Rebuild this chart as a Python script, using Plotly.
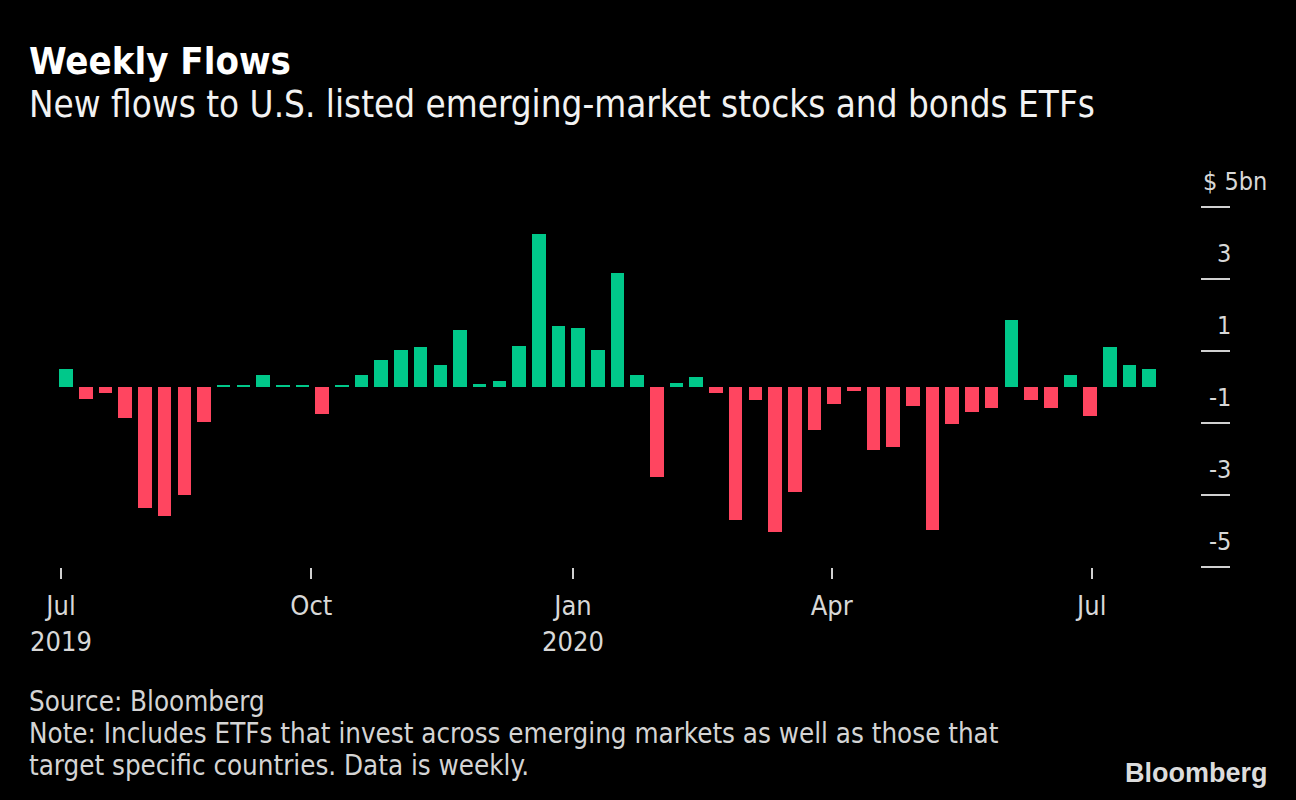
import pandas as pd
import plotly.graph_objects as go

# ---- data ----
week_dates = pd.date_range("2019-07-05", periods=56, freq="7D")
flows_bn = [0.49, -0.32, -0.16, -0.87, -3.37, -3.59, -3.0, -0.98, 0.05, 0.05,
            0.34, 0.04, 0.04, -0.76, 0.05, 0.33, 0.76, 1.04, 1.1, 0.61,
            1.59, 0.07, 0.17, 1.15, 4.25, 1.69, 1.63, 1.04, 3.17, 0.33,
            -2.5, 0.12, 0.28, -0.16, -3.7, -0.37, -4.02, -2.93, -1.19, -0.48,
            -0.11, -1.74, -1.68, -0.53, -3.97, -1.02, -0.70, -0.59, 1.86, -0.37,
            -0.59, 0.33, -0.81, 1.1, 0.61, 0.5]
x_tick_text = ["Jul<br>2019", "Oct", "Jan<br>2020", "Apr", "Jul"]
y_tick_vals = [5, 3, 1, -1, -3, -5]
y_tick_text = ["$ 5bn", "3", "1", "-1", "-3", "-5"]
title_text = "Weekly Flows"
subtitle_text = "New flows to U.S. listed emerging-market stocks and bonds ETFs"
source_text = "Source: Bloomberg"
note_lines = ["Note: Includes ETFs that invest across emerging markets as well as those that",
              "target specific countries. Data is weekly."]
logo_text = "Bloomberg"

# ---- styles ----
GREEN = "#00c88a"
RED = "#ff4560"
BG = "#000000"
FONT = "DejaVu Sans Condensed"
week_index = list(range(len(flows_bn)))
colors = [GREEN if v >= 0 else RED for v in flows_bn]

fig = go.Figure(go.Bar(
    x=week_index, y=flows_bn, width=0.69,
    marker=dict(color=colors, line=dict(width=0)),
    customdata=[d.strftime("%b %d, %Y") for d in week_dates],
    hovertemplate="%{customdata}: %{y:.2f}bn<extra></extra>",
))

# plot area in pixels: left 30, right 1200, top 207, bottom 567
L, R, T, B = 30, 1200, 207, 567
W, H = R - L, B - T
def px_x(px):
    return (px - L) / W
def px_y(py):
    return (B - py) / H

def text_ann(text, x, y, size, color, xanchor="left", family=FONT):
    return dict(text=text, x=px_x(x), y=px_y(y), xref="paper", yref="paper",
                xanchor=xanchor, yanchor="middle", showarrow=False, borderpad=0,
                font=dict(family=family, size=size, color=color))

annotations = [
    text_ann(f"<b>{title_text}</b>", 28, 61, 38, "#ffffff"),
    text_ann(subtitle_text, 28, 105, 36.5, "#f2f2f2"),
    text_ann(source_text, 28, 701, 27.5, "#d4d4d4"),
    text_ann(note_lines[0], 28, 733, 27.5, "#d4d4d4"),
    text_ann(note_lines[1], 28, 765, 27.5, "#d4d4d4"),
    text_ann(f"<b>{logo_text}</b>", 1269, 773, 27, "#dcdcdc", xanchor="right",
             family="Liberation Sans"),
]
for v, t in zip(y_tick_vals, y_tick_text):
    left = t.startswith("$")
    annotations.append(dict(text=t, x=px_x(1202 if left else 1232), y=v, xref="paper", yref="y",
                            xanchor="left" if left else "right", yanchor="bottom", yshift=10,
                            showarrow=False, borderpad=0,
                            font=dict(family=FONT, size=25, color="#d8d8d8")))

fig.update_layout(
    width=1296, height=800,
    paper_bgcolor=BG, plot_bgcolor=BG,
    margin=dict(l=L, r=1296 - R, t=T, b=800 - B),
    showlegend=False, bargap=0,
    annotations=annotations,
    xaxis=dict(range=[-1.836, 57.58], tickvals=[-0.262, 12.451, 25.740, 38.878, 52.082],
               ticktext=x_tick_text, ticks="outside", ticklen=11, tickwidth=2,
               tickcolor="#d0d0d0", showgrid=False, zeroline=False, showline=False,
               ticklabelstandoff=4,
               tickfont=dict(family=FONT, size=27, color="#d8d8d8")),
    yaxis=dict(range=[-5, 5], tickvals=y_tick_vals, showticklabels=False, side="right",
               ticks="outside", ticklen=29, tickwidth=2, tickcolor="#d0d0d0",
               showgrid=False, zeroline=False, showline=False),
)

fig.write_html("out.html", config={"displayModeBar": False},
               post_script="document.body.style.margin='0px';"
                           "document.body.style.background='#000';")
